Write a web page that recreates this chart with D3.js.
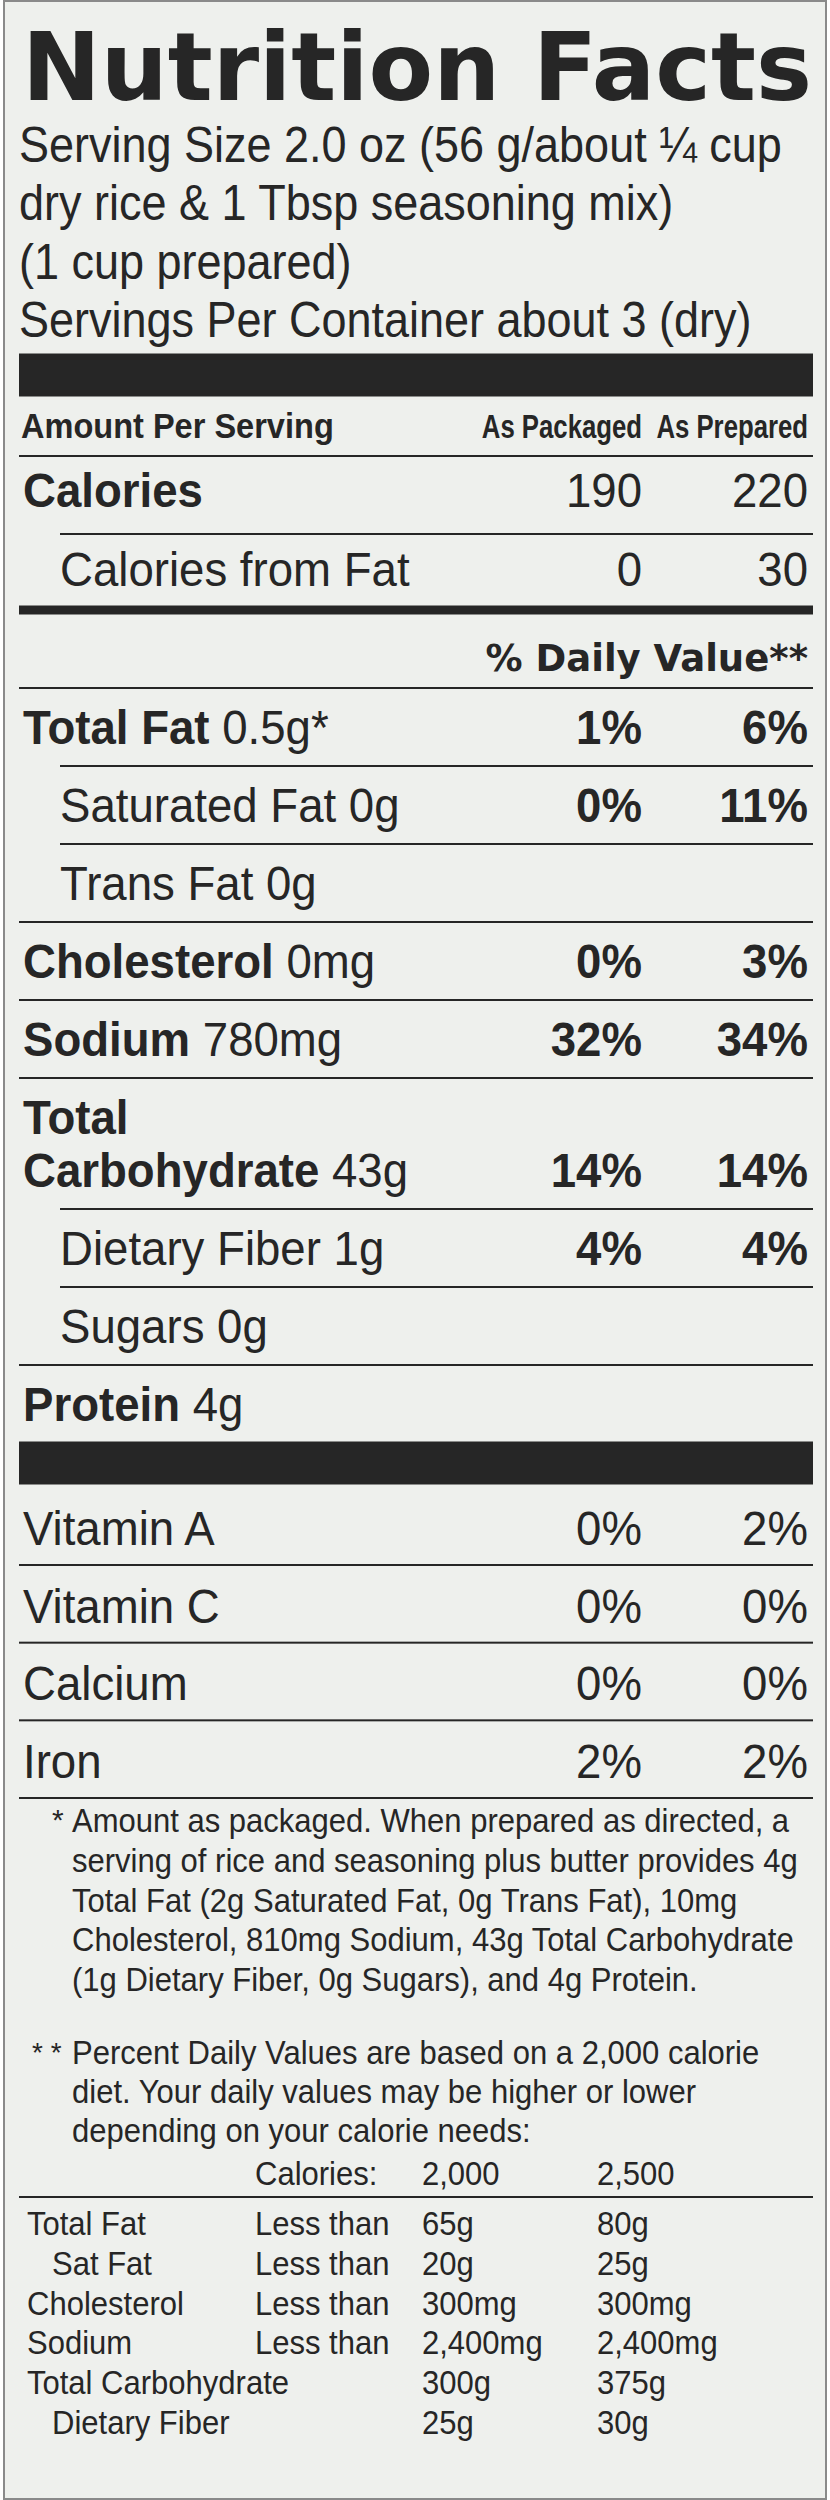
<!DOCTYPE html>
<html>
<head>
<meta charset="utf-8">
<script src="https://cdn.jsdelivr.net/npm/d3@7"></script>
<style>
  body { margin: 0; background: #fff; }
  text { fill: #262626; }
</style>
</head>
<body>
<div id="label"></div>
<script>
// label data
var servingLines = [
  "Serving Size 2.0 oz (56 g/about \u00BC cup",
  "dry rice & 1 Tbsp seasoning mix)",
  "(1 cup prepared)",
  "Servings Per Container about 3 (dry)"
];
var calorieNames = ["Calories", "Calories from Fat"];
var caloriePackaged = ["190", "0"];
var caloriePrepared = ["220", "30"];

var nutrientNames = ["Total Fat", "Saturated Fat", "Trans Fat", "Cholesterol", "Sodium", "Total\nCarbohydrate", "Dietary Fiber", "Sugars", "Protein"];
var nutrientAmounts = ["0.5g*", "0g", "0g", "0mg", "780mg", "43g", "1g", "0g", "4g"];
var nutrientSub = [false, true, true, false, false, false, true, true, false];
var dvPackaged = ["1%", "0%", "", "0%", "32%", "14%", "4%", "", ""];
var dvPrepared = ["6%", "11%", "", "3%", "34%", "14%", "4%", "", ""];

var vitaminNames = ["Vitamin A", "Vitamin C", "Calcium", "Iron"];
var vitaminPackaged = ["0%", "0%", "0%", "2%"];
var vitaminPrepared = ["2%", "0%", "0%", "2%"];

var note1 = [
  "Amount as packaged. When prepared as directed, a",
  "serving of rice and seasoning plus butter provides 4g",
  "Total Fat (2g Saturated Fat, 0g Trans Fat), 10mg",
  "Cholesterol, 810mg Sodium, 43g Total Carbohydrate",
  "(1g Dietary Fiber, 0g Sugars), and 4g Protein."
];
var note2 = [
  "Percent Daily Values are based on a 2,000 calorie",
  "diet. Your daily values may be higher or lower",
  "depending on your calorie needs:"
];
var dvHeader = ["Calories:", "2,000", "2,500"];
var dvNames = ["Total Fat", "Sat Fat", "Cholesterol", "Sodium", "Total Carbohydrate", "Dietary Fiber"];
var dvSub = [false, true, false, false, false, true];
var dvLimit = ["Less than", "Less than", "Less than", "Less than", "", ""];
var dv2000 = ["65g", "20g", "300mg", "2,400mg", "300g", "25g"];
var dv2500 = ["80g", "25g", "300mg", "2,400mg", "375g", "30g"];

var W = 830, H = 2500;
var narrow = "'Liberation Sans', Arial, sans-serif";
var wide = "'DejaVu Sans', Verdana, sans-serif";
var ink = "#262626";
var x0 = 27, xSub = 60, xPack = 642, xPrep = 808, lineL = 19, lineR = 813;

var svg = d3.select("#label").append("svg")
  .attr("width", W).attr("height", H);

svg.append("rect").attr("x", 4).attr("y", 1).attr("width", W - 8).attr("height", H - 2)
  .attr("fill", "#eef0ed").attr("stroke", "#8a8a8a").attr("stroke-width", 2);

function rule(y, x1, thick) {
  svg.append("rect").attr("x", x1).attr("y", y - thick / 2)
    .attr("width", lineR - x1).attr("height", thick).attr("fill", ink);
}
// text squeezed horizontally by sx, like the condensed face on the label
function txt(x, y, s, size, opts) {
  opts = opts || {};
  var sx = opts.sx || 1;
  var t = svg.append("text")
    .attr("transform", "translate(" + x + "," + y + ") scale(" + sx + ",1)")
    .style("font-family", opts.family || narrow)
    .style("font-size", size + "px")
    .style("font-weight", opts.bold ? "bold" : "normal")
    .attr("text-anchor", opts.anchor || "start")
    .text(s);
  if (opts.len) t.attr("textLength", opts.len).attr("lengthAdjust", "spacingAndGlyphs");
  return t;
}

// title
txt(22, 100, "Nutrition Facts", 94, {family: wide, bold: true, len: 790});

// serving info
var servY = d3.scalePoint().domain(d3.range(servingLines.length)).range([162, 337]);
servingLines.forEach(function(s, i) {
  txt(x0 - 8, servY(i), s, 50, {sx: 0.9});
});

rule(375, lineL, 43);

txt(x0 - 6, 438, "Amount Per Serving", 35, {bold: true, sx: 0.93});
txt(xPack, 438, "As Packaged", 33, {bold: true, anchor: "end", sx: 0.78});
txt(xPrep, 438, "As Prepared", 33, {bold: true, anchor: "end", sx: 0.78});
rule(456, lineL, 2);

var big = {sx: 0.95};
// calories
var calY = d3.scalePoint().domain(calorieNames).range([507, 586]);
calorieNames.forEach(function(n, i) {
  txt(i ? xSub : x0 - 4, calY(n), n, 48, {bold: i == 0, sx: 0.95});
  txt(xPack, calY(n), caloriePackaged[i], 48, {anchor: "end", sx: 0.95});
  txt(xPrep, calY(n), caloriePrepared[i], 48, {anchor: "end", sx: 0.95});
});
rule(534, xSub, 2);
rule(610, lineL, 9);

txt(xPrep, 671, "% Daily Value**", 37, {family: wide, bold: true, anchor: "end"});
rule(688, lineL, 2);

// nutrients
var y = 744, rowH = 78;
nutrientNames.forEach(function(n, i) {
  var parts = n.split("\n");
  var x = nutrientSub[i] ? xSub : x0 - 4;
  if (parts.length > 1) {
    txt(x, y, parts[0], 48, {bold: true, sx: 0.95});
    y += 53;
  }
  var last = parts[parts.length - 1];
  var t = txt(x, y, null, 48, {sx: 0.95});
  t.append("tspan").style("font-weight", nutrientSub[i] ? "normal" : "bold").text(last + " ");
  t.append("tspan").text(nutrientAmounts[i]);
  txt(xPack, y, dvPackaged[i], 48, {bold: true, anchor: "end", sx: 0.95});
  txt(xPrep, y, dvPrepared[i], 48, {bold: true, anchor: "end", sx: 0.95});
  if (i < nutrientNames.length - 1) {
    var nextSub = nutrientSub[i + 1];
    rule(y + 22, nextSub ? xSub : lineL, 2);
  }
  y += rowH;
});

rule(1463, lineL, 43);

// vitamins
var vitY = d3.scalePoint().domain(vitaminNames).range([1545, 1778]);
vitaminNames.forEach(function(n, i) {
  txt(x0 - 4, vitY(n), n, 48, {sx: 0.95});
  txt(xPack, vitY(n), vitaminPackaged[i], 48, {anchor: "end", sx: 0.95});
  txt(xPrep, vitY(n), vitaminPrepared[i], 48, {anchor: "end", sx: 0.95});
  rule(vitY(n) + 20, lineL, 2);
});

// footnotes
var noteY = d3.scalePoint().domain(d3.range(note1.length)).range([1832, 1991]);
txt(52, 1830, "*", 30);
note1.forEach(function(s, i) { txt(72, noteY(i), s, 33, {sx: 0.94}); });
var note2Y = d3.scalePoint().domain(d3.range(note2.length)).range([2064, 2142]);
txt(32, 2062, "* *", 28);
note2.forEach(function(s, i) { txt(72, note2Y(i), s, 33, {sx: 0.94}); });

var cols = [255, 422, 597];
dvHeader.forEach(function(s, i) { txt(cols[i], 2185, s, 33, {sx: 0.94}); });
rule(2197, lineL, 2);

var dvY = d3.scalePoint().domain(dvNames).range([2235, 2434]);
dvNames.forEach(function(n, i) {
  var yy = dvY(n);
  txt(dvSub[i] ? 52 : x0, yy, n, 33, {sx: 0.94});
  txt(cols[0], yy, dvLimit[i], 33, {sx: 0.94});
  txt(cols[1], yy, dv2000[i], 33, {sx: 0.94});
  txt(cols[2], yy, dv2500[i], 33, {sx: 0.94});
});
</script>
</body>
</html>
